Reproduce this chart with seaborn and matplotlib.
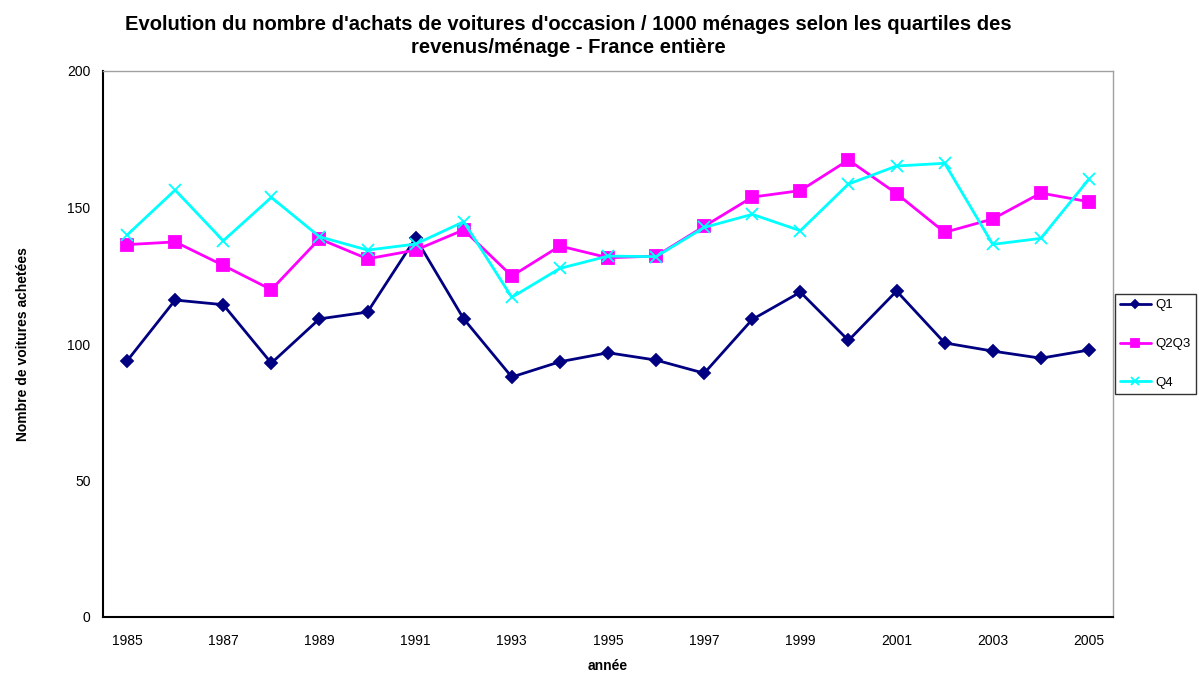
import pandas as pd
import numpy as np
import matplotlib.pyplot as plt
import seaborn as sns

# ----------------------------- DATEN -----------------------------
years = list(range(1985, 2006))
q1 = [93.8, 116.1, 114.4, 93.0, 109.2, 111.7, 138.8, 109.2, 87.9, 93.5, 96.8,
      94.1, 89.3, 109.0, 119.0, 101.3, 119.4, 100.4, 97.4, 94.8, 97.8]
q2q3 = [136.4, 137.4, 128.8, 119.9, 138.5, 131.2, 134.4, 141.8, 124.9, 135.9, 131.6,
        132.2, 143.1, 153.8, 156.2, 167.4, 155.1, 140.9, 145.8, 155.3, 152.1]
q4 = [139.9, 156.4, 137.8, 153.7, 139.3, 134.4, 136.6, 144.8, 117.1, 127.7, 132.2,
      132.0, 142.7, 147.5, 141.5, 158.6, 165.2, 166.2, 136.5, 138.7, 160.4]
series_names = ["Q1", "Q2Q3", "Q4"]
y_ticks = [0, 50, 100, 150, 200]

title = ("Evolution du nombre d'achats de voitures d'occasion / 1000 ménages selon les quartiles des\n"
         "revenus/ménage - France entière")

df = pd.DataFrame({"annee": years * 3,
                   "valeur": q1 + q2q3 + q4,
                   "serie": [s for s in series_names for _ in years]})

# ----------------------------- PLOT -----------------------------
sns.set_style("white")
plt.rcParams["font.family"] = ["Liberation Sans", "DejaVu Sans"]
plt.rcParams["text.color"] = "black"
plt.rcParams["axes.labelcolor"] = "black"
plt.rcParams["xtick.color"] = "black"
plt.rcParams["ytick.color"] = "black"

fig = plt.figure(figsize=(11.99, 6.75), dpi=100)
ax = fig.add_axes([103 / 1199, 1 - 617 / 675, 1010 / 1199, 546 / 675])

palette = {"Q1": "#000080", "Q2Q3": "#FF00FF", "Q4": "#00FFFF"}
markers = {"Q1": "D", "Q2Q3": "s", "Q4": "x"}
sizes = {"Q1": 6, "Q2Q3": 8, "Q4": 8}

for name in series_names:
    sub = df[df["serie"] == name]
    sns.lineplot(data=sub, x="annee", y="valeur", ax=ax, color=palette[name],
                 marker=markers[name], markersize=sizes[name], markeredgewidth=1.3,
                 markeredgecolor=palette[name], linewidth=2, label=name)

ax.set_xlim(years[0] - 0.5, years[-1] + 0.5)
ax.set_ylim(0, 200)
ax.set_yticks(y_ticks)
ax.set_xticks(years[::2])
ax.set_xticklabels([str(y) for y in years[::2]])
ax.set_xticks([y - 0.5 for y in years] + [years[-1] + 0.5], minor=True)
ax.tick_params(axis="x", which="major", length=0, pad=12, labelsize=10)
ax.tick_params(axis="x", which="minor", length=5, width=1, color="black", direction="out")
ax.tick_params(axis="y", length=5, width=1, color="black", direction="out", labelsize=10, pad=4)

for side in ["top", "right"]:
    ax.spines[side].set_color("#a0a0a0")
    ax.spines[side].set_linewidth(1)
for side in ["left", "bottom"]:
    ax.spines[side].set_color("black")
    ax.spines[side].set_linewidth(1.5)

ax.set_xlabel("année", fontsize=10, fontweight="bold", labelpad=8)
ax.set_ylabel("Nombre de voitures achetées", fontsize=10, fontweight="bold", labelpad=27)
fig.suptitle(title, fontsize=14.5, fontweight="bold", y=0.978, x=0.474, linespacing=1.3)

leg = ax.legend(loc="center left", bbox_to_anchor=(1.0, 0.5), frameon=True, fancybox=False,
                edgecolor="black", fontsize=9.5, handlelength=2.3, labelspacing=2.0,
                borderpad=0.4, borderaxespad=0.15, handletextpad=0.35, markerscale=0.7)
leg.get_frame().set_linewidth(1)

fig.savefig("out.png", dpi=100)
